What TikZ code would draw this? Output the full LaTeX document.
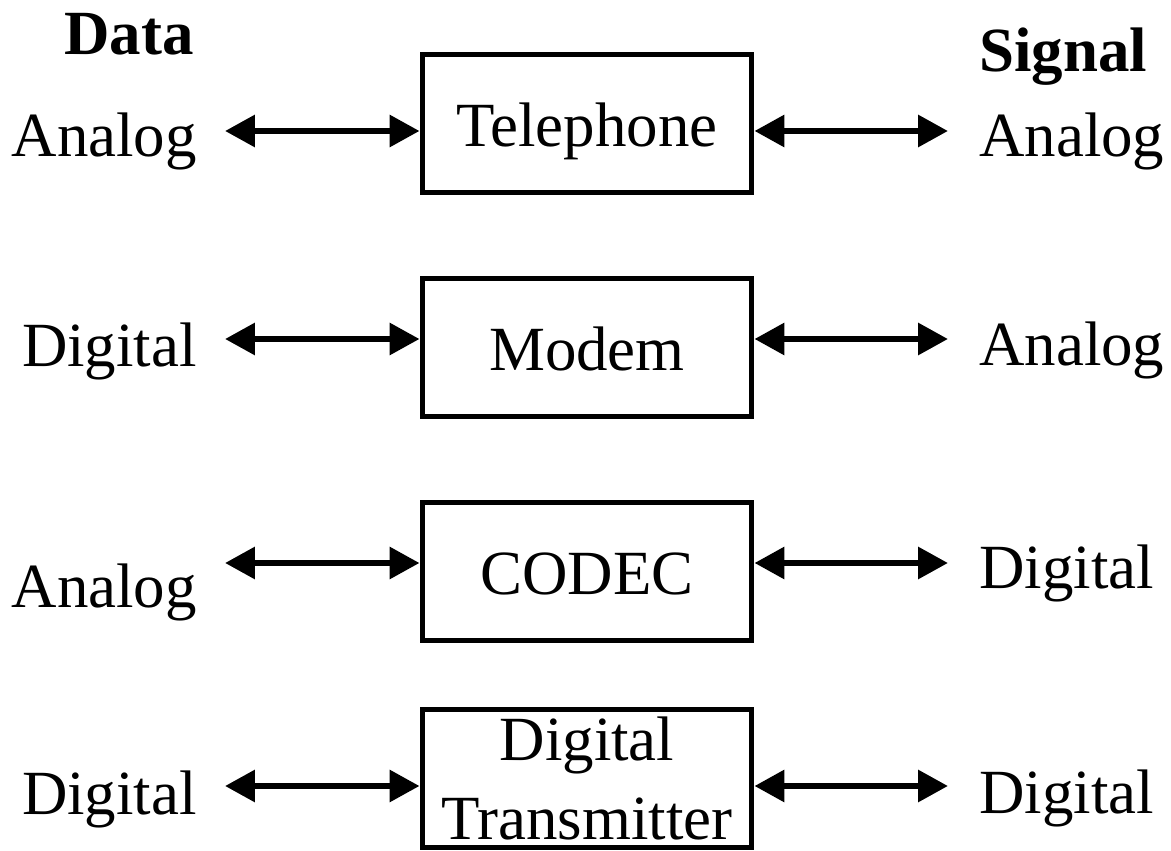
\documentclass[tikz,border=0pt]{standalone}
\usepackage{fontspec}
\setmainfont{Liberation Serif}
\usepackage{tikz}
\usetikzlibrary{positioning,arrows.meta}

\begin{document}
\begin{tikzpicture}[x=0.02cm, y=-0.02cm, font=\fontsize{35.8pt}{45.5pt}\selectfont,
		unit/.style={draw, line width=2.85pt, minimum width=6.6cm, minimum height=2.76cm, inner sep=0pt, align=center},
		oneline/.style={text height=1cm, text depth=0.08cm},
		link/.style={{Triangle[length=0.6cm,width=0.62cm]}-{Triangle[length=0.6cm,width=0.62cm]}, line width=3.6pt}]
		\useasboundingbox (0,0) rectangle (1171,851);
		\node[anchor=base west, font=\fontsize{35.8pt}{43pt}\selectfont\bfseries] (datahead) at (58,55) {Data};
		\node[anchor=base west, font=\fontsize{35.8pt}{43pt}\selectfont\bfseries] (sighead) at (973,72) {Signal};
		\node[unit, oneline] (tel) at (587,123.5) {Telephone};
		\node[unit, oneline] (modem) at (587,347.5) {Modem};
		\node[unit, oneline] (codec) at (587,571.5) {CODEC};
		\node[unit] (dtx) at (587,778.5) {Digital\\Transmitter};
		\node[anchor=base east] (tel-data) at (203,157) {Analog};
		\node[anchor=base west] (tel-sig) at (973,157) {Analog};
		\node[anchor=base east] (modem-data) at (203,367) {Digital};
		\node[anchor=base west] (modem-sig) at (973,366) {Analog};
		\node[anchor=base east] (codec-data) at (203,607) {Analog};
		\node[anchor=base west] (codec-sig) at (973,588) {Digital};
		\node[anchor=base east] (dtx-data) at (203,814) {Digital};
		\node[anchor=base west] (dtx-sig) at (973,813) {Digital};
		\coordinate (tel-in) at (225,131);
		\coordinate (tel-out) at (948,131);
		\coordinate (modem-in) at (225,339);
		\coordinate (modem-out) at (948,339);
		\coordinate (codec-in) at (225,563);
		\coordinate (codec-out) at (948,563);
		\coordinate (dtx-in) at (225,786);
		\coordinate (dtx-out) at (948,786);
		\foreach \u in {tel,modem,codec,dtx} {
			\draw[link] (\u-in) -- (\u.west |- \u-in);
			\draw[link] (\u.east |- \u-out) -- (\u-out);
		}
	\end{tikzpicture}
\end{document}
